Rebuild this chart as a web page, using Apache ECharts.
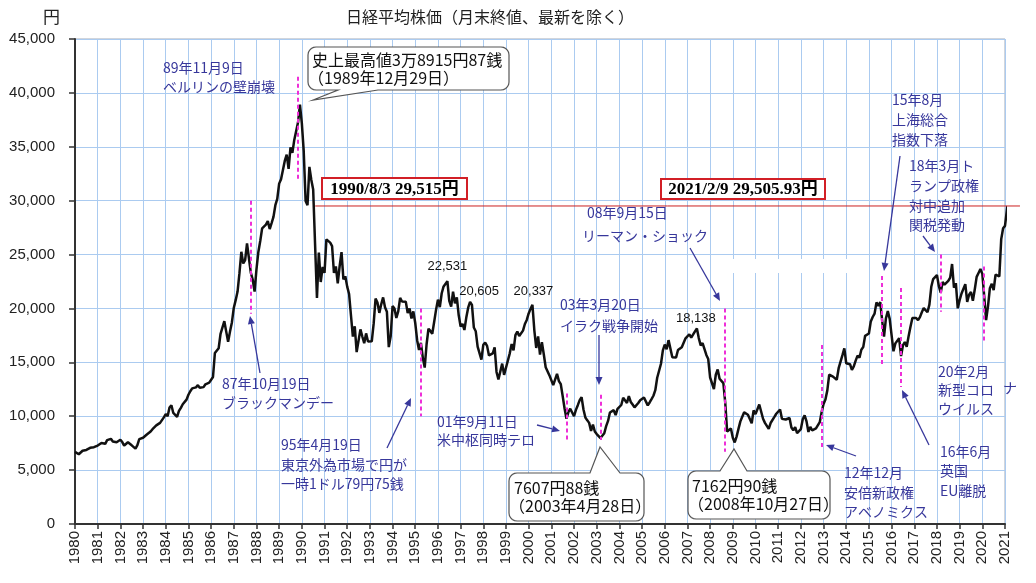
<!DOCTYPE html>
<html>
<head>
<meta charset="utf-8">
<title>日経平均株価</title>
<script src="https://cdn.jsdelivr.net/npm/echarts@6/dist/echarts.min.js"></script>
<style>
  html, body { margin: 0; padding: 0; background: #fff; }
  #chart { width: 1036px; height: 583px; }
</style>
</head>
<body>
<div id="chart"></div>
<script>
// 月末終値（円）、1980年1月から
const startYear = 1980;
const closes1980s = [
  6687, 6759, 6475, 6590, 6800, 6811, 6872, 7036, 7068, 7153, 7127, 7116,
  7280, 7270, 7520, 7590, 7440, 7780, 7820, 7900, 7660, 7790, 7590, 7680,
  7820, 7600, 7280, 7440, 7590, 7460, 7300, 7120, 6990, 7320, 7880, 8016,
  8000, 8080, 8300, 8480, 8580, 8800, 8940, 9150, 9280, 9380, 9330, 9894,
  10190, 10000, 10810, 11020, 10300, 10480, 9950, 10490, 10780, 11110, 11110, 11543,
  11990, 12320, 12580, 12430, 12680, 12880, 12640, 12470, 12700, 12960, 12790, 13113,
  13024, 13640, 15860, 15825, 16310, 17650, 17595, 18820, 17850, 16910, 17850, 18701,
  20048, 20770, 21566, 23275, 25260, 24176, 24488, 26029, 26010, 23328, 22687, 21564,
  23622, 25242, 26260, 27435, 27417, 27769, 28098, 27366, 27924, 28498, 29579, 30159,
  31581, 31986, 32839, 33713, 34267, 32949, 34954, 34431, 35637, 35549, 37268, 38916
];
const closes1990s = [
  37189, 34592, 29980, 29585, 33131, 31940, 31036, 25978, 20984, 25194, 22455, 23849,
  23293, 26409, 26292, 26111, 25790, 23291, 23900, 22336, 23916, 25222, 22687, 22984,
  22023, 21339, 19346, 17391, 18348, 15952, 15910, 18061, 17399, 16767, 17684, 16925,
  17024, 16953, 18591, 20919, 20552, 19590, 20380, 21027, 20106, 19704, 16408, 17417,
  20229, 19997, 19112, 19725, 20974, 20644, 20462, 20629, 19564, 19990, 19076, 19723,
  18650, 17053, 16140, 16807, 15437, 14517, 16678, 18117, 17913, 17655, 18744, 19868,
  20813, 20125, 21407, 22041, 21956, 22531, 20693, 20167, 21556, 20466, 21020, 19361,
  18330, 18557, 18003, 19151, 20069, 20605, 20331, 18229, 17888, 16459, 16636, 15259,
  16628, 16831, 16527, 15642, 15671, 15830, 16379, 14108, 13406, 13565, 14883, 13842,
  14500, 14368, 15837, 16702, 16112, 17530, 17862, 17437, 17605, 17942, 18558, 18934
];
const closes2000s = [
  19540, 19960, 20337, 17974, 16332, 17411, 15727, 16861, 15747, 14540, 14649, 13786,
  13843, 12884, 12999, 13934, 13262, 12969, 11861, 10713, 9775, 10366, 10697, 10543,
  9997, 10588, 11025, 11493, 11764, 10622, 9877, 9619, 9383, 8640, 9216, 8579,
  8340, 8363, 7973, 7831, 8425, 9083, 9563, 10344, 10219, 10560, 10101, 10677,
  10784, 11042, 11715, 11762, 11236, 11859, 11326, 11082, 10824, 10771, 11231, 11489,
  11388, 11741, 11669, 11009, 11277, 11584, 11900, 12414, 13574, 13607, 14872, 16111,
  16650, 16206, 17060, 16906, 15468, 15505, 15457, 16141, 16128, 16399, 16274, 17226,
  17383, 17604, 17288, 17400, 17876, 18138, 17249, 16569, 16786, 16738, 15681, 15308,
  13592, 13603, 12526, 13850, 14339, 13482, 13377, 13073, 11260, 8577, 8512, 8860,
  7994, 7568, 8110, 8828, 9523, 9958, 10357, 10493, 10133, 10035, 9346, 10546
];
const closes2010s = [
  10198, 10126, 11090, 11057, 9769, 9383, 9537, 8824, 9369, 9202, 9937, 10229,
  10238, 10624, 9755, 9850, 9694, 9816, 9833, 8955, 8700, 8988, 8435, 8455,
  8803, 9723, 10084, 9521, 8543, 9007, 8695, 8840, 8870, 8928, 9446, 10395,
  11139, 11559, 12398, 13861, 13775, 13677, 13668, 13389, 14456, 14328, 15662, 16291,
  14915, 14841, 14828, 14304, 14632, 15162, 15621, 15425, 16174, 16414, 17460, 17451,
  17674, 18798, 19207, 19520, 20563, 20236, 20585, 18890, 17388, 19083, 19747, 19034,
  17518, 16027, 16759, 16666, 17235, 15576, 16569, 16887, 16450, 17425, 18308, 19114,
  19041, 19119, 18909, 19197, 19651, 20033, 19925, 19646, 20356, 22012, 22725, 22765,
  23098, 22068, 21454, 22468, 22202, 22305, 22554, 22865, 24120, 21920, 22351, 20015,
  20773, 21385, 21206, 22259, 20601, 21276, 21521, 20704, 21756, 22927, 23294, 23657
];
const closes2020s = [
  23205, 21143, 18917, 20194, 21878, 22288, 21710, 23140, 23185, 22977, 26434, 27444,
  27663
];
// 最新値 2021/2/9
const latestDate = [2021, 2, 9];
const latestValue = 29505.93;

// 数値ラベルを付ける月 [年, 月]
const peakMonths = [[1996, 6], [1997, 6], [2000, 3], [2007, 6]];
// 出来事 [年, 月]
const eventMonths = [[1987, 10], [1989, 11], [1995, 4], [2001, 9], [2003, 3], [2008, 9],
  [2012, 12], [2015, 8], [2016, 6], [2018, 3], [2020, 2]];

const yearMin = 1980, yearMax = 2021;
const yMin = 0, yMax = 45000, yStep = 5000;

// ---- build ----
const closes = [].concat(closes1980s, closes1990s, closes2000s, closes2010s, closes2020s);
const monthX = (y, m) => y + (m - 1) / 12;
const seriesData = closes.map((v, i) => [startYear + i / 12, v]);
const latestX = monthX(latestDate[0], latestDate[1]) + (latestDate[2] - 1) / 365;
seriesData.push([latestX, latestValue]);

const closeAt = (y, m) => closes[(y - startYear) * 12 + m - 1];
const fmt = v => v.toLocaleString('en-US');

const JP = '"Noto Sans CJK JP", sans-serif';
const NAVY = '#37379b';
const PINK = '#ee2fd8';

// 縦の破線（上端・下端の値は配置用）
const eventSpan = [[30000, 19500], [41500, 32000], [20000, 10000], [12100, 7800], [12000, 7800],
  [20000, 6700], [16600, 6900], [23000, 14750], [21900, 12700], [25000, 19700], [23900, 16800]];
const eventLines = eventMonths.map(([y, m], k) => [
  { coord: [monthX(y, m), eventSpan[k][0]] },
  { coord: [monthX(y, m), eventSpan[k][1]] }
]);

const peakOffsets = [[0, -15], [9, -11], [1, -13], [-1, -10]];
const peakPoints = peakMonths.map(([y, m], k) => ({
  coord: [monthX(y, m), closeAt(y, m)],
  value: closeAt(y, m),
  label: { offset: peakOffsets[k] }
}));

function text(x, y, s, o) {
  o = o || {};
  return {
    type: 'text', x: x, y: y, z: 100,
    style: {
      text: s, fill: o.color || NAVY,
      font: (o.weight || 'normal') + ' ' + (o.size || 14) + 'px ' + (o.family || JP),
      textAlign: o.align || 'left', align: o.align || 'left',
      textVerticalAlign: 'middle', verticalAlign: 'middle'
    }
  };
}

function arrow(x1, y1, x2, y2) {
  const dx = x2 - x1, dy = y2 - y1, len = Math.hypot(dx, dy);
  const ux = dx / len, uy = dy / len, hl = 8, hw = 3.5;
  const bx = x2 - ux * hl, by = y2 - uy * hl;
  return [
    { type: 'line', z: 100, shape: { x1: x1, y1: y1, x2: bx, y2: by }, style: { stroke: NAVY, lineWidth: 1.3 } },
    { type: 'polygon', z: 100, shape: { points: [[x2, y2], [bx - uy * hw, by + ux * hw], [bx + uy * hw, by - ux * hw]] }, style: { fill: NAVY } }
  ];
}

// 吹き出し（角丸＋しっぽ）
function callout(x, y, w, h, b1, b2, tip, tailTop) {
  const r = 8, pts = [];
  const arc = (cx, cy, a0, a1) => {
    for (let k = 0; k <= 5; k++) {
      const a = a0 + (a1 - a0) * k / 5;
      pts.push([cx + r * Math.cos(a), cy + r * Math.sin(a)]);
    }
  };
  arc(x + r, y + r, Math.PI, 1.5 * Math.PI);
  if (tailTop) pts.push([b1, y], tip, [b2, y]);
  arc(x + w - r, y + r, 1.5 * Math.PI, 2 * Math.PI);
  arc(x + w - r, y + h - r, 0, 0.5 * Math.PI);
  if (!tailTop) pts.push([b2, y + h], tip, [b1, y + h]);
  arc(x + r, y + h - r, 0.5 * Math.PI, Math.PI);
  return { type: 'polygon', z: 90, shape: { points: pts }, style: { fill: '#fff', stroke: '#555', lineWidth: 1.2 } };
}

function redBox(x, y, w, h, s) {
  return [
    { type: 'rect', z: 90, shape: { x: x, y: y, width: w, height: h }, style: { fill: '#fff', stroke: '#d21f26', lineWidth: 2 } },
    text(x + w / 2, y + h / 2 + 1, s, { color: '#000', size: 17, weight: 'bold', family: '"Liberation Serif", "Noto Sans CJK JP", serif', align: 'center' })
  ];
}

const graphics = [].concat(
  [{ type: 'rect', z: 1, shape: { x: 712, y: 259, width: 143, height: 14 }, style: { fill: '#fff' } }],
  text(490, 17, '日経平均株価（月末終値、最新を除く）', { color: '#222', size: 16, align: 'center' }),
  text(43, 17, '円', { color: '#222', size: 17 }),

  text(163, 68, '89年11月9日'), text(163, 87, 'ベルリンの壁崩壊'),
  text(222, 384, '87年10月19日'), text(222, 403, 'ブラックマンデー'),
  arrow(260, 373, 250, 316),
  text(281, 445, '95年4月19日'), text(281, 465, '東京外為市場で円が'), text(281, 484, '一時1ドル79円75銭'),
  arrow(387, 448, 411, 398),
  text(437, 422, '01年9月11日'), text(437, 440, '米中枢同時テロ'),
  arrow(537, 425, 560, 431),
  text(560, 305, '03年3月20日'), text(560, 326, 'イラク戦争開始'),
  arrow(599, 335, 599, 385),
  text(587, 213, '08年9月15日'), text(582, 236, 'リーマン・ショック'),
  arrow(690, 248, 720, 301),
  text(844, 473, '12年12月'), text(844, 493, '安倍新政権'), text(844, 512, 'アベノミクス'),
  arrow(856, 456, 826, 445),
  text(892, 100, '15年8月'), text(892, 120, '上海総合'), text(892, 140, '指数下落'),
  arrow(900, 156, 884, 271),
  text(909, 166, '18年3月ト'), text(909, 186, 'ランプ政権'), text(909, 206, '対中追加'), text(909, 225, '関税発動'),
  arrow(923, 236, 935, 252),
  text(938, 372, '20年2月'), text(938, 390, '新型コロ'), text(1003, 388, 'ナ'), text(938, 409, 'ウイルス'),
  text(940, 452, '16年6月'), text(940, 471, '英国'), text(940, 491, 'EU離脱'),
  arrow(929, 445, 902, 390),

  callout(308, 47, 201, 43, 338, 378, [313, 100], false),
  text(312, 60, '史上最高値3万8915円87銭', { color: '#111', size: 16 }),
  text(308, 78, '（1989年12月29日）', { color: '#111', size: 16 }),
  callout(509, 473, 135, 48, 590, 620, [600, 447], true),
  text(514, 488, '7607円88銭', { color: '#111', size: 16 }),
  text(509, 506, '（2003年4月28日）', { color: '#111', size: 16 }),
  callout(688, 471, 142, 48, 720, 747, [734, 449], true),
  text(692, 486, '7162円90銭', { color: '#111', size: 16 }),
  text(688, 504, '（2008年10月27日）', { color: '#111', size: 16 }),

  redBox(322, 178, 145, 21, '1990/8/3 29,515円'),
  redBox(661, 179, 164, 20, '2021/2/9 29,505.93円')
);

const chart = echarts.init(document.getElementById('chart'));
chart.setOption({
  animation: false,
  backgroundColor: '#fff',
  grid: { left: 75, right: 31, top: 39, bottom: 59, show: true, borderColor: '#a3abb8', borderWidth: 1, backgroundColor: 'transparent' },
  xAxis: {
    type: 'value', min: yearMin, max: yearMax, interval: 1,
    axisLine: { lineStyle: { color: '#333', width: 2 } },
    axisTick: { length: 5, lineStyle: { color: '#333', width: 1.5 } },
    axisLabel: { rotate: 90, margin: 7, fontSize: 15, color: '#222', fontFamily: '"Liberation Sans", Arial, sans-serif',
      showMinLabel: true, showMaxLabel: true, formatter: v => String(v) },
    splitLine: { show: true, lineStyle: { color: '#abcbf0', width: 1 } }
  },
  yAxis: {
    type: 'value', min: yMin, max: yMax, interval: yStep,
    axisLine: { show: true, lineStyle: { color: '#333', width: 2 } },
    axisTick: { show: true, length: 6, lineStyle: { color: '#333', width: 1.5 } },
    axisLabel: { margin: 20, fontSize: 15, color: '#222', fontFamily: '"Liberation Sans", Arial, sans-serif', formatter: v => fmt(v) },
    splitLine: { show: true, lineStyle: { color: '#abcbf0', width: 1 } }
  },
  series: [{
    type: 'line', data: seriesData, showSymbol: false, clip: false, z: 3,
    lineStyle: { color: '#111', width: 2.5 },
    markLine: {
      silent: true, symbol: ['none', 'none'], label: { show: false },
      lineStyle: { color: PINK, type: [4, 3], width: 2 },
      data: eventLines
    },
    markPoint: {
      symbol: 'circle', symbolSize: 1, itemStyle: { color: 'rgba(0,0,0,0)' },
      label: { show: true, position: 'inside', color: '#111', fontSize: 13, fontFamily: '"Liberation Sans", Arial, sans-serif',
        formatter: p => fmt(p.value) },
      data: peakPoints
    }
  }]
});

// 1990/8 から最新値の水準に引く赤線（軸の外まで延ばす）
const redStart = chart.convertToPixel({ gridIndex: 0 }, [monthX(1990, 8) + 2 / 365, latestValue]);
const redEnd = chart.convertToPixel({ gridIndex: 0 }, [2021.66, latestValue]);
graphics.push({
  type: 'line', z: 4,
  shape: { x1: redStart[0], y1: redStart[1], x2: redEnd[0], y2: redEnd[1] },
  style: { stroke: '#cc2020', lineWidth: 1 }
});
chart.setOption({ graphic: graphics });
</script>
</body>
</html>
